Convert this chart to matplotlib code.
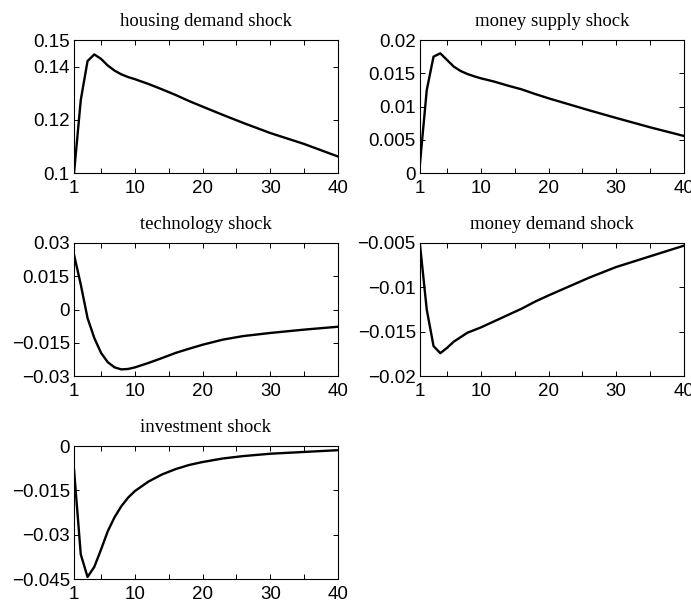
import matplotlib
matplotlib.use("Agg")
import matplotlib.pyplot as plt
from matplotlib import ticker

# impulse responses, by period
periods = [1, 2, 3, 4, 5, 6, 7, 8, 9, 10, 12, 14, 16, 18, 20, 23, 26, 30, 35, 40]

housing = [0.1000, 0.1275, 0.1421, 0.1446, 0.1429, 0.1404, 0.1385, 0.1371, 0.1361, 0.1353,
           0.1335, 0.1315, 0.1294, 0.1271, 0.1250, 0.1219, 0.1189, 0.1151, 0.1110, 0.1063]
money_supply = [0.0015, 0.0125, 0.0175, 0.0180, 0.0170, 0.0160, 0.01535, 0.0149, 0.01455, 0.01425,
                0.01375, 0.01315, 0.0126, 0.0119, 0.01125, 0.01035, 0.00945, 0.0083, 0.0069, 0.0056]
technology = [0.0248, 0.0113, -0.0038, -0.0128, -0.0195, -0.0237, -0.0260, -0.0269, -0.0267, -0.0260,
              -0.0240, -0.0218, -0.0195, -0.0176, -0.0158, -0.0135, -0.0119, -0.0105, -0.0090, -0.0077]
money_demand = [-0.0052, -0.0125, -0.0166, -0.0174, -0.0168, -0.0161, -0.0156, -0.0151, -0.0148, -0.0145,
                -0.0138, -0.0131, -0.0124, -0.0116, -0.0109, -0.0099, -0.0089, -0.0077, -0.0065, -0.0053]
investment = [-0.0079, -0.0366, -0.0442, -0.0408, -0.0349, -0.0287, -0.0240, -0.0203, -0.0174, -0.0152,
              -0.0120, -0.0096, -0.0078, -0.0064, -0.0054, -0.0042, -0.0034, -0.0026, -0.0020, -0.0014]

titles = ["housing demand shock", "money supply shock", "technology shock",
          "money demand shock", "investment shock"]
series = [housing, money_supply, technology, money_demand, investment]
yticks = [
    [0.1, 0.12, 0.14, 0.15],
    [0, 0.005, 0.01, 0.015, 0.02],
    [-0.03, -0.015, 0, 0.015, 0.03],
    [-0.02, -0.015, -0.01, -0.005],
    [-0.045, -0.03, -0.015, 0],
]
xticks = [1, 10, 20, 30, 40]
xminor = [5, 15, 25, 35]

# axes boxes in figure fractions: left, bottom, width, height
lefts = [0.1071, 0.6078, 0.1071, 0.6078, 0.1071]
bottoms = [0.7145, 0.7145, 0.3801, 0.3801, 0.0456]
width, height = 0.382, 0.2196


def fmt(v, pos=None):
    return ("%g" % v).replace("-", "\u2212")


fig = plt.figure(figsize=(6.91, 6.07), dpi=100)

for i in range(5):
    ax = fig.add_axes([lefts[i], bottoms[i], width, height])
    ax.plot(periods, series[i], color="black", lw=1.7)
    ax.set_xlim(1, 40)
    ax.set_ylim(yticks[i][0], yticks[i][-1])
    ax.set_xticks(xticks)
    ax.set_xticks(xminor, minor=True)
    ax.set_yticks(yticks[i])
    ax.yaxis.set_major_formatter(ticker.FuncFormatter(fmt))
    ax.tick_params(which="both", direction="in", top=True, right=True,
                   length=3.5, width=0.7, labelsize=13.5, pad=3)
    ax.tick_params(axis="x", pad=5)
    for lab in ax.get_xticklabels() + ax.get_yticklabels():
        lab.set_family("Liberation Sans")
    for sp in ax.spines.values():
        sp.set_linewidth(0.8)
    ax.set_title(titles[i], family="Liberation Serif", fontsize=13.5, pad=10)

fig.savefig("out.png", dpi=100)
